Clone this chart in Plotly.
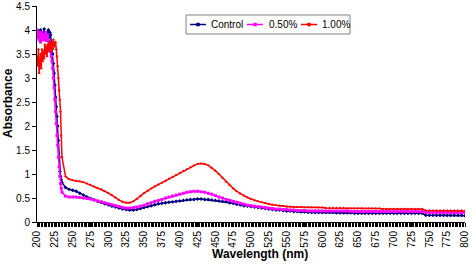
import plotly.graph_objects as go

# Wavelengths (nm): 1 nm steps 200-235, then 5 nm steps 240-800
wl_fine = list(range(200, 236))
wl_coarse = list(range(240, 805, 5))
wavelength = wl_fine + wl_coarse

control = [
    # 200-235
    3.95, 3.85, 3.98, 3.90, 3.88, 4.00, 3.85, 3.92, 3.80, 3.95,
    4.02, 3.88, 3.90, 3.85, 3.95, 3.82, 4.00, 3.86, 3.95, 3.90,
    3.75, 3.62, 3.50, 3.30, 3.10, 2.85, 2.60, 2.40, 2.20, 2.00,
    1.70, 1.35, 1.05, 0.95, 0.88, 0.82,
    # 240-800
    0.72, 0.68, 0.66, 0.64, 0.60, 0.56, 0.52, 0.49, 0.46, 0.43,
    0.41, 0.38, 0.36, 0.33, 0.31, 0.29, 0.27, 0.26, 0.25, 0.25,
    0.26, 0.28, 0.30, 0.32, 0.34, 0.36, 0.38, 0.39, 0.40, 0.41,
    0.42, 0.43, 0.44, 0.45, 0.46, 0.47, 0.47, 0.48, 0.48, 0.47,
    0.47, 0.46, 0.45, 0.44, 0.43, 0.42, 0.40, 0.39, 0.37, 0.36,
    0.34, 0.33, 0.32, 0.31, 0.30, 0.29, 0.28, 0.27, 0.26, 0.25,
    0.25, 0.24, 0.23, 0.23, 0.22, 0.22, 0.21, 0.21, 0.20, 0.20,
    0.20, 0.20, 0.20, 0.20, 0.20, 0.20, 0.19, 0.19, 0.19, 0.19,
    0.19, 0.18, 0.18, 0.18, 0.18, 0.18, 0.18, 0.18, 0.18, 0.18,
    0.18, 0.18, 0.18, 0.18, 0.18, 0.18, 0.18, 0.18, 0.18, 0.18,
    0.18, 0.14, 0.14, 0.14, 0.14, 0.14, 0.14, 0.14, 0.14, 0.14,
    0.14, 0.14, 0.13,
]

pct050 = [
    # 200-235
    4.00, 3.85, 3.95, 3.80, 3.90, 3.75, 3.95, 3.85, 3.80, 3.90,
    3.85, 3.80, 3.95, 3.78, 3.85, 3.90, 3.78, 3.75, 3.65, 3.55,
    3.45, 3.35, 3.20, 3.00, 2.80, 2.55, 2.30, 2.05, 1.80, 1.60,
    1.35, 1.15, 0.95, 0.80, 0.70, 0.62,
    # 240-800
    0.54, 0.52, 0.52, 0.52, 0.51, 0.50, 0.49, 0.48, 0.46, 0.44,
    0.42, 0.40, 0.38, 0.36, 0.34, 0.32, 0.30, 0.29, 0.29, 0.30,
    0.31, 0.33, 0.35, 0.38, 0.40, 0.43, 0.45, 0.47, 0.50, 0.52,
    0.54, 0.56, 0.58, 0.60, 0.62, 0.63, 0.64, 0.64, 0.63, 0.62,
    0.60, 0.58, 0.55, 0.52, 0.50, 0.47, 0.45, 0.43, 0.41, 0.39,
    0.37, 0.35, 0.34, 0.33, 0.32, 0.31, 0.30, 0.29, 0.28, 0.27,
    0.27, 0.26, 0.26, 0.25, 0.25, 0.24, 0.24, 0.24, 0.23, 0.23,
    0.23, 0.23, 0.23, 0.23, 0.23, 0.23, 0.23, 0.23, 0.23, 0.23,
    0.22, 0.22, 0.22, 0.22, 0.22, 0.22, 0.22, 0.22, 0.22, 0.22,
    0.22, 0.22, 0.22, 0.22, 0.22, 0.22, 0.22, 0.22, 0.22, 0.22,
    0.22, 0.20, 0.20, 0.20, 0.20, 0.20, 0.20, 0.20, 0.20, 0.20,
    0.20, 0.20, 0.19,
]

pct100 = [
    # 200-235
    3.45, 3.25, 3.60, 3.10, 3.30, 3.50, 3.20, 3.60, 3.35, 3.55,
    3.40, 3.70, 3.50, 3.65, 3.45, 3.70, 3.55, 3.75, 3.60, 3.70,
    3.55, 3.75, 3.60, 3.80, 3.65, 3.70, 3.75, 3.60, 3.45, 3.25,
    3.00, 2.75, 2.55, 2.30, 1.80, 1.35,
    # 240-800
    0.95, 0.89, 0.87, 0.86, 0.85, 0.83, 0.80, 0.77, 0.74, 0.71,
    0.68, 0.64, 0.60, 0.56, 0.51, 0.46, 0.42, 0.40, 0.40, 0.43,
    0.48, 0.54, 0.60, 0.65, 0.70, 0.74, 0.78, 0.82, 0.86, 0.90,
    0.94, 0.98, 1.02, 1.06, 1.10, 1.14, 1.18, 1.21, 1.22, 1.21,
    1.18, 1.13, 1.07, 1.00, 0.92, 0.84, 0.77, 0.70, 0.64, 0.59,
    0.55, 0.51, 0.48, 0.45, 0.43, 0.41, 0.39, 0.37, 0.36, 0.35,
    0.34, 0.33, 0.32, 0.32, 0.31, 0.31, 0.31, 0.30, 0.30, 0.30,
    0.30, 0.30, 0.30, 0.29, 0.29, 0.29, 0.29, 0.29, 0.29, 0.28,
    0.28, 0.28, 0.28, 0.28, 0.28, 0.28, 0.28, 0.28, 0.28, 0.27,
    0.27, 0.27, 0.27, 0.27, 0.27, 0.27, 0.27, 0.27, 0.27, 0.27,
    0.27, 0.24, 0.24, 0.24, 0.24, 0.24, 0.24, 0.24, 0.24, 0.24,
    0.24, 0.24, 0.23,
]

series_names = ["Control", "0.50%", "1.00%"]
x_tick_values = list(range(200, 801, 25))
y_tick_values = [0, 0.5, 1, 1.5, 2, 2.5, 3, 3.5, 4, 4.5]
y_tick_text = ["0", "0.5", "1", "1.5", "2", "2.5", "3", "3.5", "4", "4.5"]

colors = ["#000080", "#FF00FF", "#FF0000"]
symbols = ["diamond", "square", "triangle-up"]

W, H = 472, 264
ML, MR, MT, MB = 37, 7, 6, 42
PW, PH = W - ML - MR, H - MT - MB


def fx(px):
    """page pixel x -> paper fraction"""
    return (px - ML) / PW


def fy(py):
    """page pixel y -> paper fraction"""
    return (H - MB - py) / PH


fig = go.Figure()
for name, vals, col, sym in zip(series_names, [control, pct050, pct100], colors, symbols):
    fig.add_trace(go.Scatter(
        x=wavelength, y=vals, name=name, mode="lines+markers",
        line=dict(color=col, width=1.5),
        marker=dict(color=col, symbol=sym, size=3, line=dict(width=0)),
        showlegend=False,
    ))

# Boxed legend drawn like the original (short line samples, text right of them)
font_family = "Liberation Sans, Arial, sans-serif"
legend_box = (186, 15, 350, 34)
legend_line_x = [190, 247, 301]
legend_text_x = [209, 267, 320]
legend_y = 24.5
shapes = [dict(type="rect", xref="paper", yref="paper",
               x0=fx(legend_box[0]), x1=fx(legend_box[2]),
               y0=fy(legend_box[3]), y1=fy(legend_box[1]),
               line=dict(color="#808080", width=1), fillcolor="white", layer="above")]
annotations = []
for name, col, lx, tx in zip(series_names, colors, legend_line_x, legend_text_x):
    shapes.append(dict(type="line", xref="paper", yref="paper",
                       x0=fx(lx), x1=fx(lx + 16), y0=fy(legend_y), y1=fy(legend_y),
                       line=dict(color=col, width=1.5), layer="above"))
    shapes.append(dict(type="rect", xref="paper", yref="paper",
                       x0=fx(lx + 6.5), x1=fx(lx + 9.5),
                       y0=fy(legend_y + 1.5), y1=fy(legend_y - 1.5),
                       line=dict(color=col, width=0.5), fillcolor=col, layer="above"))
    annotations.append(dict(text=name, xref="paper", yref="paper",
                            x=fx(tx), y=fy(legend_y), xanchor="left", yanchor="middle",
                            showarrow=False, font=dict(size=10, color="black")))

annotations += [
    dict(text="<b>Wavelength (nm)</b>", xref="paper", yref="paper",
         x=fx(260), y=fy(254), xanchor="center", yanchor="middle",
         showarrow=False, font=dict(size=12)),
    dict(text="<b>Absorbance</b>", xref="paper", yref="paper",
         x=fx(8), y=fy(103), xanchor="center", yanchor="middle",
         textangle=-90, showarrow=False, font=dict(size=12)),
]

fig.update_layout(
    width=W, height=H,
    margin=dict(l=ML, r=MR, t=MT, b=MB, autoexpand=False),
    paper_bgcolor="white", plot_bgcolor="white",
    font=dict(family=font_family, size=10, color="black"),
    showlegend=False,
    xaxis=dict(
        range=[200, 800], tickmode="array", tickvals=x_tick_values,
        ticktext=[str(v) for v in x_tick_values], tickangle=-90,
        showgrid=False, zeroline=False, showline=True, linecolor="black",
        linewidth=1, ticks="outside", ticklen=4, tickcolor="black",
        minor=dict(ticks="outside", dtick=2, ticklen=4, tickcolor="black",
                   tickwidth=1, showgrid=False),
        tickfont=dict(size=10), automargin=False, ticklabeloverflow="allow",
    ),
    yaxis=dict(
        range=[0, 4.5], tickmode="array", tickvals=y_tick_values,
        ticktext=y_tick_text, showgrid=False, zeroline=False,
        showline=True, linecolor="black", linewidth=1,
        ticks="outside", ticklen=4, tickcolor="black",
        tickfont=dict(size=10), automargin=False,
    ),
    shapes=shapes,
    annotations=annotations,
)

fig.write_html(
    "out.html",
    config={"displayModeBar": False},
    post_script="document.body.style.margin='0';document.body.style.overflow='hidden';",
)
